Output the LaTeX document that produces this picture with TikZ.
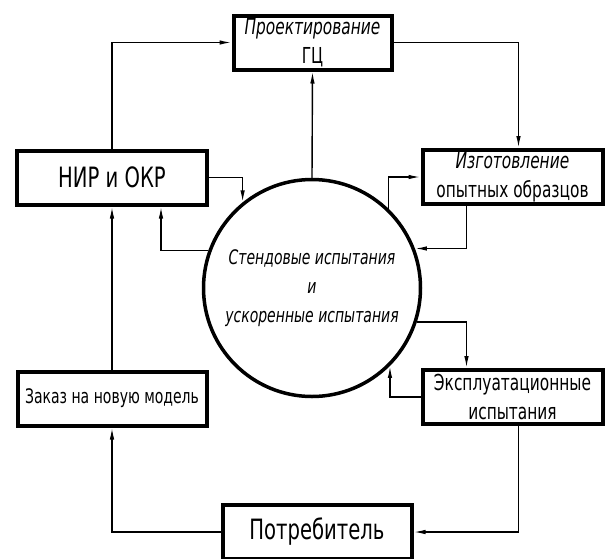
\documentclass[tikz,border=0pt]{standalone}
\usepackage{fontspec}
\setmainfont{DejaVu Sans}[FakeStretch=0.7]
\usetikzlibrary{arrows.meta}

\begin{document}
\begin{tikzpicture}[x=1pt,y=-1pt,
        block/.style={draw,rectangle,line width=4pt,align=center,inner sep=0pt,minimum width=182,minimum height=54},
        txt/.style={font=\fontsize{22}{29}\selectfont},
        big/.style={font=\fontsize{28}{32}\selectfont},
        link/.style={line width=1.4pt,-{Latex[length=12pt,width=4.5pt]}}]
        \useasboundingbox (0,0) rectangle (605,558);
        \node[block,txt,minimum width=158] (proj) at (312.5,42.5) {{\itshape Проектирование}\\ГЦ};
        \node[block,big,minimum width=190] (nir) at (112,177.5) {НИР и ОКР};
        \node[block,txt,minimum width=180] (izg) at (512.5,177) {{\itshape Изготовление}\\опытных образцов};
        \node[block,txt,minimum width=189,font=\fontsize{20}{29}\selectfont] (zak) at (112,398.5) {Заказ на новую модель};
        \node[block,txt,minimum width=180] (eksp) at (512.5,397) {Эксплуатационные\\испытания};
        \node[block,big,minimum width=189] (potr) at (317,532) {Потребитель};
        \node[draw,circle,line width=3.5pt,minimum size=217,inner sep=0pt,align=center,
              font=\fontsize{20}{29}\selectfont\itshape] (circ) at (312,288)
              {Стендовые испытания\\и\\ускоренные испытания};
        \draw[link] (nir.north) |- (proj.west);
        \draw[link] (circ.north) -- (proj.south);
        \draw[link] (proj.east) -| ([xshift=6]izg.north);
        \draw[link] (circ.46) |- (izg.west);
        \draw[link] ([xshift=-46]izg.south) |- (circ.21);
        \draw[link] (nir.east) -| (circ.129);
        \draw[link] (circ.160) -| ([xshift=49]nir.south);
        \draw[link] (zak.north) -- (nir.south);
        \draw[link] (potr.west) -| (zak.south);
        \draw[link] ([xshift=6]eksp.south) |- (potr.east);
        \draw[link] (circ.-18) -| ([xshift=-46]eksp.north);
        \draw[link] (eksp.west) -| (circ.-45);
\end{tikzpicture}
\end{document}
